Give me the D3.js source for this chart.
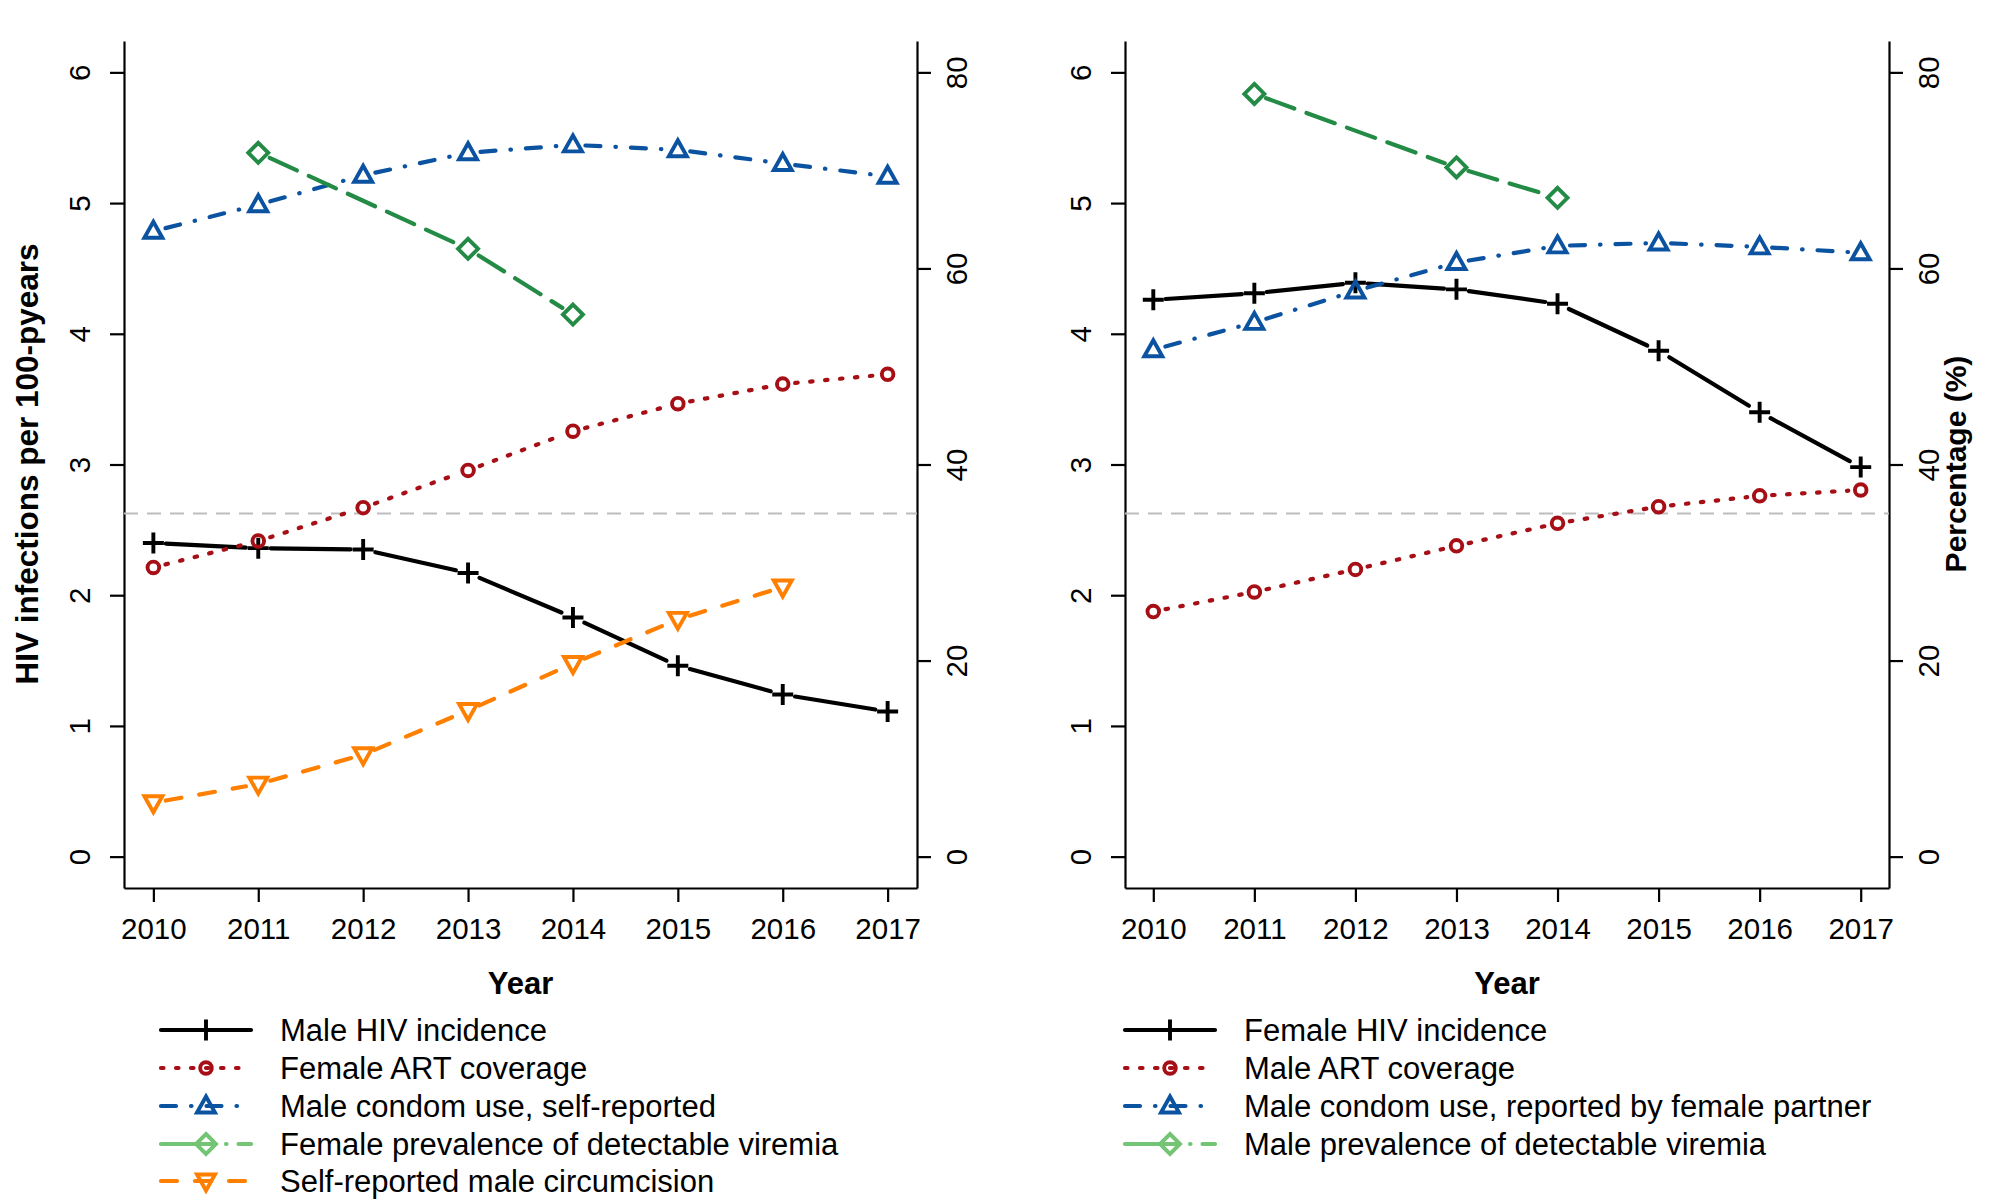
<!DOCTYPE html>
<html>
<head>
<meta charset="utf-8">
<script src="https://cdn.jsdelivr.net/npm/d3@7"></script>
<style>
  body { margin: 0; background: #fff; overflow: hidden; }
  svg { display: block; font-family: "Liberation Sans", Arial, sans-serif; }
</style>
</head>
<body>
<svg id="chart" width="2000" height="1200"></svg>
<script>
const years = [2010, 2011, 2012, 2013, 2014, 2015, 2016, 2017];
const leftTicks = [0, 1, 2, 3, 4, 5, 6];
const rightTicks = [0, 20, 40, 60, 80];
const thresholdPct = 35;

// left panel (men)
const maleIncidence = [2.40, 2.36, 2.35, 2.17, 1.83, 1.46, 1.24, 1.11];
const femaleArt = [29.5, 32.2, 35.6, 39.4, 43.4, 46.2, 48.2, 49.2];
const maleCondomSelf = [63.8, 66.5, 69.5, 71.8, 72.6, 72.1, 70.7, 69.4];
const femaleViremia = [null, 71.8, null, 62.0, 55.3, null, null, null];
const maleCircumcision = [5.5, 7.4, 10.4, 14.9, 19.7, 24.2, 27.5, null];

// right panel (women)
const femaleIncidence = [4.26, 4.31, 4.39, 4.34, 4.23, 3.87, 3.40, 2.98];
const maleArt = [25.0, 27.0, 29.3, 31.7, 34.0, 35.7, 36.8, 37.4];
const maleCondomPartner = [51.7, 54.5, 57.7, 60.6, 62.3, 62.6, 62.2, 61.6];
const maleViremia = [null, 77.8, null, 70.3, 67.2, null, null, null];

const leftLabels = ["Male HIV incidence", "Female ART coverage", "Male condom use, self-reported",
                    "Female prevalence of detectable viremia", "Self-reported male circumcision"];
const rightLabels = ["Female HIV incidence", "Male ART coverage", "Male condom use, reported by female partner",
                     "Male prevalence of detectable viremia"];

const lw = 4.2;
const mw = 3.9;
const styles = {
    incidence: {color: "#000000", dash: null, marker: "plus", axis: "left"},
    art: {color: "#a50f15", dash: "2.5,12.5", marker: "circle", axis: "right"},
    condom: {color: "#0b53a0", dash: "15,15,0.5,15", marker: "tri", axis: "right"},
    viremia: {color: "#238b45", dash: "30,13", marker: "diamond", axis: "right",
              legendColor: "#74c476", legendDash: "34,5,14,12,0.5,12"},
    circ: {color: "#ff7f00", dash: "16,18", marker: "triDown", axis: "right"}
};

const markerPaths = {
    plus: "M-10.5,0H10.5M0,-10.5V10.5",
    tri: "M0,-9.5L9,6.5H-9Z",
    triDown: "M0,9.5L9,-6.5H-9Z",
    diamond: "M0,-10L10,0L0,10L-10,0Z"
};

const svg = d3.select("#chart");
const plotTop = 41, plotBottom = 888;
const gap = 12.5;

function drawMarker(g, kind, x, y, color) {
    if (kind === "circle") {
        g.append("circle").attr("cx", x).attr("cy", y).attr("r", 5.8)
            .attr("fill", "none").attr("stroke", color).attr("stroke-width", mw);
    } else {
        g.append("path").attr("d", markerPaths[kind]).attr("transform", `translate(${x},${y})`)
            .attr("fill", "none").attr("stroke", color).attr("stroke-width", mw)
            .attr("stroke-linejoin", "miter");
    }
}

function panel(opts) {
    const x = d3.scaleLinear().domain([2009.72, 2017.28]).range([opts.left, opts.right]);
    const yL = d3.scaleLinear().domain([-0.24, 6.24]).range([plotBottom, plotTop]);
    const yR = d3.scaleLinear().domain([-0.24 * 80 / 6, 6.24 * 80 / 6]).range([plotBottom, plotTop]);
    const g = svg.append("g");

    // axes (their domain lines make the open box)
    const ax = g.append("g").attr("transform", `translate(0,${plotBottom})`)
        .call(d3.axisBottom(x).tickValues(years).tickFormat(d3.format("d")).tickSize(14).tickSizeOuter(0));
    ax.selectAll("text").attr("y", null).attr("dy", null).attr("transform", "translate(0,40)")
        .attr("dominant-baseline", "central");
    const al = g.append("g").attr("transform", `translate(${opts.left},0)`)
        .call(d3.axisLeft(yL).tickValues(leftTicks).tickFormat(d3.format("d")).tickSize(14).tickSizeOuter(0));
    al.selectAll("text").attr("x", null).attr("dy", null).attr("text-anchor", "middle")
        .attr("dominant-baseline", "central").attr("transform", "translate(-45,0) rotate(-90)");
    const ar = g.append("g").attr("transform", `translate(${opts.right},0)`)
        .call(d3.axisRight(yR).tickValues(rightTicks).tickFormat(d3.format("d")).tickSize(14).tickSizeOuter(0));
    ar.selectAll("text").attr("x", null).attr("dy", null).attr("text-anchor", "middle")
        .attr("dominant-baseline", "central").attr("transform", "translate(39,0) rotate(-90)");
    g.selectAll(".domain, .tick line").attr("stroke", "#000").attr("stroke-width", 2.2);
    g.selectAll(".tick text").attr("font-size", 29.5).attr("font-family", "Liberation Sans, Arial, sans-serif")
        .attr("fill", "#000");

    // 35% reference line
    g.append("line").attr("x1", opts.left).attr("x2", opts.right)
        .attr("y1", yR(thresholdPct)).attr("y2", yR(thresholdPct))
        .attr("stroke", "#bdbdbd").attr("stroke-width", 2).attr("stroke-dasharray", "14,9");

    // series, drawn R type="b" style: segments stop short of the points
    opts.series.forEach(s => {
        const st = styles[s.style];
        const y = st.axis === "left" ? yL : yR;
        const pts = years.map((yr, i) => ({yr: yr, v: s.values[i]})).filter(p => p.v !== null)
            .map(p => [x(p.yr), y(p.v)]);
        const sg = g.append("g");
        for (let i = 0; i < pts.length - 1; i++) {
            const [x1, y1] = pts[i], [x2, y2] = pts[i + 1];
            const len = Math.hypot(x2 - x1, y2 - y1);
            const ux = (x2 - x1) / len, uy = (y2 - y1) / len;
            sg.append("line")
                .attr("x1", x1 + ux * gap).attr("y1", y1 + uy * gap)
                .attr("x2", x2 - ux * gap).attr("y2", y2 - uy * gap)
                .attr("stroke", st.color).attr("stroke-width", lw)
                .attr("stroke-linecap", "round")
                .attr("stroke-dasharray", st.dash);
        }
        pts.forEach(p => drawMarker(sg, st.marker, p[0], p[1], st.color));
    });

    // axis titles
    g.append("text").attr("x", (opts.left + opts.right) / 2).attr("y", 983)
        .attr("text-anchor", "middle").attr("dominant-baseline", "central")
        .attr("font-size", 31).attr("font-weight", "bold").text("Year");
    if (opts.yTitle) {
        g.append("text").attr("transform", `translate(${opts.yTitleX},464) rotate(-90)`)
            .attr("text-anchor", "middle").attr("dominant-baseline", "central")
            .attr("font-size", opts.yTitleSize).attr("font-weight", "bold").text(opts.yTitle);
    }

    // legend
    const rowY = [1030, 1068, 1106, 1144, 1181];
    opts.series.forEach((s, i) => {
        const st = styles[s.style];
        const col = st.legendColor || st.color;
        const lg = g.append("g");
        lg.append("line").attr("x1", opts.legX).attr("x2", opts.legX + 90)
            .attr("y1", rowY[i]).attr("y2", rowY[i])
            .attr("stroke", col).attr("stroke-width", lw).attr("stroke-linecap", "round")
            .attr("stroke-dasharray", st.legendDash || st.dash);
        drawMarker(lg, st.marker, opts.legX + 45, rowY[i], col);
        lg.append("text").attr("x", opts.legX + 119).attr("y", rowY[i])
            .attr("dominant-baseline", "central").attr("font-size", 31).text(opts.labels[i]);
    });
}

panel({
    left: 124, right: 917, legX: 161, labels: leftLabels,
    yTitle: "HIV infections per 100-pyears", yTitleX: 27, yTitleSize: 31.5,
    series: [
        {style: "incidence", values: maleIncidence},
        {style: "art", values: femaleArt},
        {style: "condom", values: maleCondomSelf},
        {style: "viremia", values: femaleViremia},
        {style: "circ", values: maleCircumcision}
    ]
});

panel({
    left: 1125, right: 1889, legX: 1125, labels: rightLabels,
    yTitle: "Percentage (%)", yTitleX: 1955, yTitleSize: 30,
    series: [
        {style: "incidence", values: femaleIncidence},
        {style: "art", values: maleArt},
        {style: "condom", values: maleCondomPartner},
        {style: "viremia", values: maleViremia}
    ]
});
</script>
</body>
</html>
